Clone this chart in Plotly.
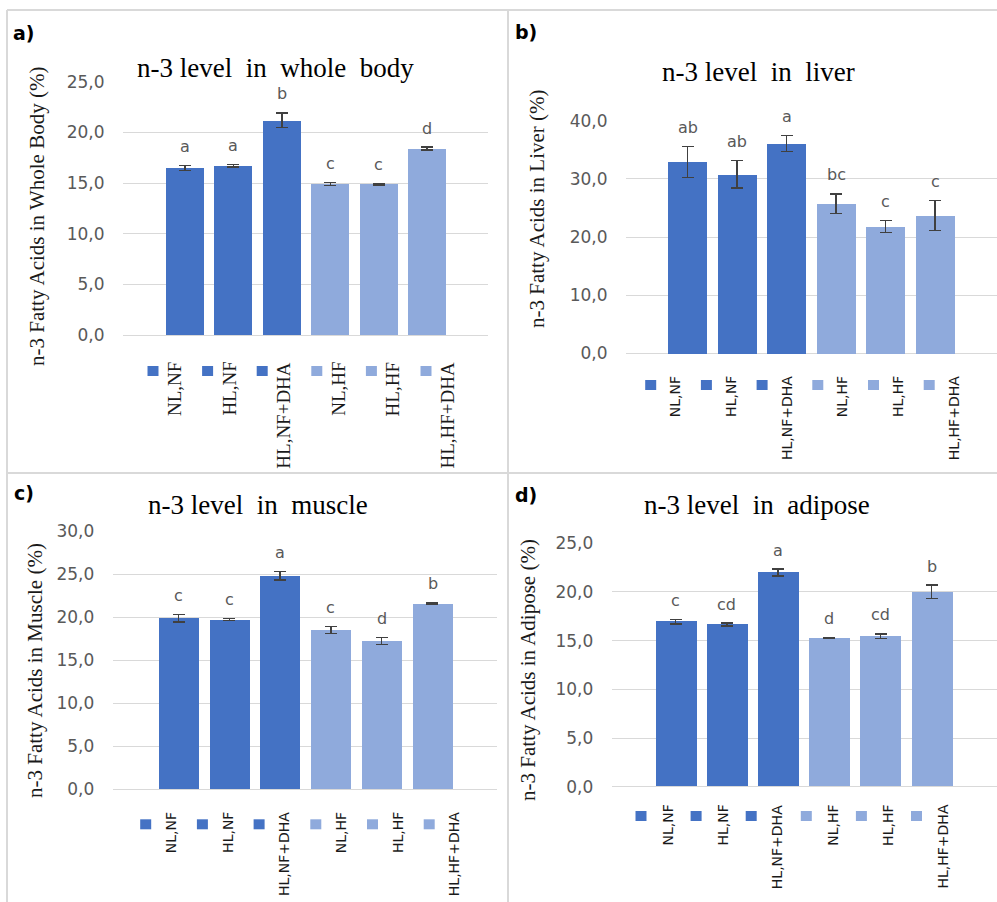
import plotly.graph_objects as go

W, H = 997, 902

# ---------------- data ----------------
categories = ["NL,NF", "HL,NF", "HL,NF+DHA", "NL,HF", "HL,HF", "HL,HF+DHA"]

wb_mean = [16.5, 16.7, 21.2, 14.9, 14.9, 18.4]
wb_err = [0.25, 0.1, 0.72, 0.15, 0.08, 0.15]
wb_letters = ["a", "a", "b", "c", "c", "d"]

liver_mean = [32.9, 30.8, 36.1, 25.7, 21.8, 23.7]
liver_err = [2.7, 2.4, 1.4, 1.7, 1.0, 2.6]
liver_letters = ["ab", "ab", "a", "bc", "c", "c"]

muscle_mean = [19.85, 19.7, 24.8, 18.5, 17.2, 21.55]
muscle_err = [0.45, 0.1, 0.5, 0.4, 0.4, 0.08]
muscle_letters = ["c", "c", "a", "c", "d", "b"]

adipose_mean = [16.95, 16.65, 22.0, 15.25, 15.45, 20.0]
adipose_err = [0.25, 0.15, 0.35, 0.05, 0.25, 0.7]
adipose_letters = ["c", "cd", "a", "d", "cd", "b"]

DARK = "#4472C4"
LIGHT = "#8FAADC"
bar_colors = [DARK] * 3 + [LIGHT] * 3

SANS = "DejaVu Sans"
SERIF = "Liberation Serif"


def fx(px):
    return px / W


def fy(py):
    return 1 - py / H


panels = [
    dict(tag="a)", means=wb_mean, errs=wb_err, letters=wb_letters,
         title="n-3 level\u00a0 in\u00a0 whole\u00a0 body",
         ytitle="n-3 Fatty Acids in Whole Body (%)",
         ymax=25, dtick=5, grid_l=123, grid_r=488, y0=335, ytop=81.7,
         c0=185, pitch=48.4, barw=38,
         title_xy=(275.5, 68), tag_xy=(24, 33), ytitle_xy=(37, 217),
         sq_x0=153, sq_dx=54.6, sq_y=371, txt_dx=21, txt_top=360,
         leg_font=dict(family=SERIF, size=19, color="#1a1a1a")),
    dict(tag="b)", means=liver_mean, errs=liver_err, letters=liver_letters,
         title="n-3 level\u00a0 in\u00a0 liver",
         ytitle="n-3 Fatty Acids in Liver (%)",
         ymax=40, dtick=10, grid_l=626, grid_r=997, y0=353.3, ytop=120.7,
         c0=687.5, pitch=49.5, barw=39,
         title_xy=(758.5, 72), tag_xy=(526, 32), ytitle_xy=(537, 209),
         sq_x0=650.7, sq_dx=55.7, sq_y=385, txt_dx=25, txt_top=374,
         leg_font=dict(family=SANS, size=14, color="#1a1a1a")),
    dict(tag="c)", means=muscle_mean, errs=muscle_err, letters=muscle_letters,
         title="n-3 level\u00a0 in\u00a0 muscle",
         ytitle="n-3 Fatty Acids in Muscle (%)",
         ymax=30, dtick=5, grid_l=112.7, grid_r=497, y0=789, ytop=531,
         c0=178.5, pitch=50.8, barw=40,
         title_xy=(257.5, 505), tag_xy=(24, 493), ytitle_xy=(35, 671),
         sq_x0=145.7, sq_dx=56.7, sq_y=824.3, txt_dx=25, txt_top=810,
         leg_font=dict(family=SANS, size=14, color="#1a1a1a")),
    dict(tag="d)", means=adipose_mean, errs=adipose_err, letters=adipose_letters,
         title="n-3 level\u00a0 in\u00a0 adipose",
         ytitle="n-3 Fatty Acids in Adipose (%)",
         ymax=25, dtick=5, grid_l=611.7, grid_r=997, y0=786.7, ytop=543.3,
         c0=675.7, pitch=51.2, barw=41,
         title_xy=(757, 505), tag_xy=(526, 495), ytitle_xy=(528, 670),
         sq_x0=641, sq_dx=55.1, sq_y=816, txt_dx=26, txt_top=803,
         leg_font=dict(family=SANS, size=14, color="#1a1a1a")),
]

fig = go.Figure()
annotations = []
shapes = []
layout_axes = {}

xs = list(range(len(categories)))

for i, p in enumerate(panels):
    n = i + 1
    xa = "x" if n == 1 else f"x{n}"
    ya = "y" if n == 1 else f"y{n}"
    xkey = "xaxis" if n == 1 else f"xaxis{n}"
    ykey = "yaxis" if n == 1 else f"yaxis{n}"

    k = (p["y0"] - p["ytop"]) / p["ymax"]  # px per unit
    ylo = -1.0 / k
    yhi = p["ymax"] + 1.0 / k
    layout_axes[ykey] = dict(
        domain=[fy(p["y0"] + 1), fy(p["ytop"] - 1)],
        range=[ylo, yhi], anchor=xa, automargin=False,
        dtick=p["dtick"], tick0=0, tickformat=".1f",
        showgrid=True, gridcolor="#d9d9d9", gridwidth=1,
        zeroline=False, showline=False,
        ticks="outside", ticklen=14, tickcolor="rgba(0,0,0,0)",
        tickfont=dict(family=SANS, size=17, color="#595959"),
        fixedrange=True,
    )
    xlo = (p["grid_l"] - p["c0"]) / p["pitch"]
    xhi = (p["grid_r"] - p["c0"]) / p["pitch"]
    layout_axes[xkey] = dict(
        domain=[fx(p["grid_l"]), fx(p["grid_r"])],
        range=[xlo, xhi], anchor=ya, automargin=False,
        showgrid=False, zeroline=False, showticklabels=False, ticks="",
        fixedrange=True,
    )

    fig.add_trace(go.Bar(
        x=xs, y=p["means"], xaxis=xa, yaxis=ya,
        width=p["barw"] / p["pitch"],
        marker=dict(color=bar_colors, line=dict(width=0)),
        error_y=dict(type="data", array=p["errs"], visible=True,
                     color="#404040", thickness=1.4, width=6),
        showlegend=False, hoverinfo="skip",
    ))

    for j, (m, e, lt) in enumerate(zip(p["means"], p["errs"], p["letters"])):
        annotations.append(dict(
            x=xs[j], y=m + e, xref=xa, yref=ya, text=lt, showarrow=False,
            yanchor="middle", xanchor="center", yshift=19,
            font=dict(family=SANS, size=16, color="#595959"),
        ))

    annotations.append(dict(
        x=fx(p["title_xy"][0]), y=fy(p["title_xy"][1]), xref="paper", yref="paper",
        text=p["title"], showarrow=False, xanchor="center", yanchor="middle",
        font=dict(family=SERIF, size=27, color="#000000"),
    ))
    annotations.append(dict(
        x=fx(p["tag_xy"][0]), y=fy(p["tag_xy"][1]), xref="paper", yref="paper",
        text="<b>" + p["tag"] + "</b>", showarrow=False, xanchor="center", yanchor="middle",
        font=dict(family=SANS, size=19, color="#000000"),
    ))
    annotations.append(dict(
        x=fx(p["ytitle_xy"][0]), y=fy(p["ytitle_xy"][1]), xref="paper", yref="paper",
        text=p["ytitle"], showarrow=False, textangle=-90,
        xanchor="center", yanchor="middle",
        font=dict(family=SERIF, size=21, color="#1a1a1a"),
    ))

    for j, cat in enumerate(categories):
        sx = p["sq_x0"] + p["sq_dx"] * j
        sy = p["sq_y"]
        shapes.append(dict(
            type="rect", xref="paper", yref="paper",
            x0=fx(sx - 5.5), x1=fx(sx + 5.5), y0=fy(sy + 5), y1=fy(sy - 5),
            fillcolor=bar_colors[j], line=dict(width=0),
        ))
        annotations.append(dict(
            x=fx(sx + p["txt_dx"]), y=fy(p["txt_top"]), xref="paper", yref="paper",
            text=cat, showarrow=False, textangle=-90,
            xanchor="center", yanchor="top", font=p["leg_font"],
        ))

border = dict(color="#d9d9d9", width=2)
shapes += [
    dict(type="line", xref="paper", yref="paper", x0=fx(7), x1=fx(997), y0=fy(10), y1=fy(10), line=border),
    dict(type="line", xref="paper", yref="paper", x0=fx(7), x1=fx(7), y0=fy(10), y1=fy(902), line=border),
    dict(type="line", xref="paper", yref="paper", x0=fx(508), x1=fx(508), y0=fy(10), y1=fy(902), line=border),
    dict(type="line", xref="paper", yref="paper", x0=fx(7), x1=fx(997), y0=fy(473), y1=fy(473), line=border),
]

fig.update_layout(
    template="none",
    width=W, height=H,
    margin=dict(l=0, r=0, t=0, b=0, pad=0),
    paper_bgcolor="white", plot_bgcolor="white",
    separators=",.",
    bargap=0,
    annotations=annotations,
    shapes=shapes,
    showlegend=False,
    **layout_axes,
)

fig.write_html(
    "out.html",
    config={"displayModeBar": False},
    post_script="document.body.style.margin='0';document.body.style.overflow='hidden';",
)
